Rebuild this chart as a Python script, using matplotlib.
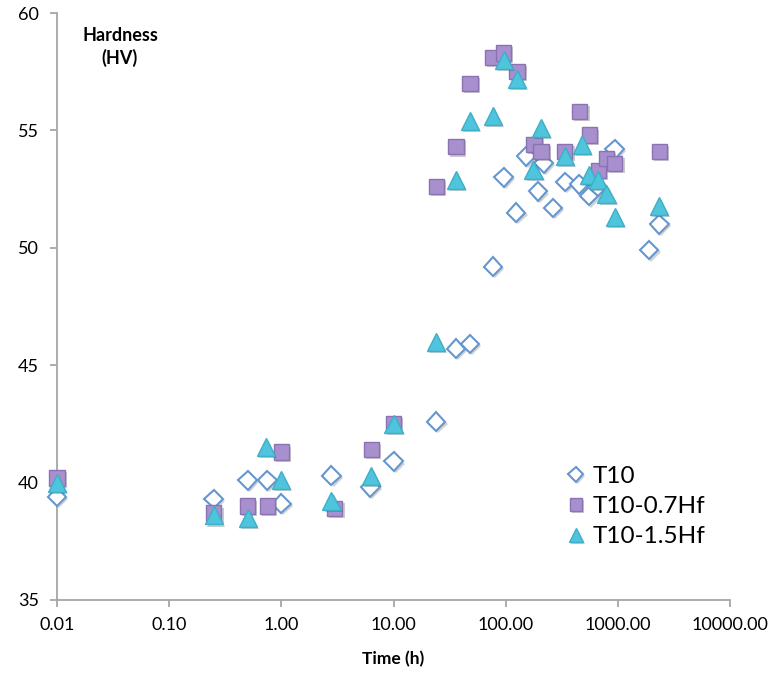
import numpy as np
import matplotlib
matplotlib.use("Agg")
import matplotlib.pyplot as plt
from matplotlib.ticker import FixedLocator, FuncFormatter, NullLocator
import matplotlib.patheffects as pe

plt.rcParams['font.family'] = ['Lato', 'DejaVu Sans']

# aging time (h) and hardness (HV) for each alloy
t10_time = [0.01, 0.25, 0.5, 0.75, 1, 2.8, 6.2, 10, 24, 36, 48, 77, 96, 124, 153,
            194, 218, 264, 340, 455, 555, 660, 940, 1900, 2340]
t10_hv = [39.4, 39.3, 40.1, 40.1, 39.1, 40.3, 39.8, 40.9, 42.6, 45.7, 45.9, 49.2, 53.0,
          51.5, 53.9, 52.4, 53.6, 51.7, 52.8, 52.7, 52.2, 52.6, 54.2, 49.9, 51.0]

hf07_time = [0.01, 0.25, 0.5, 0.75, 1, 3, 6.4, 10, 24, 36, 48, 77, 96, 126, 179,
             206, 337, 458, 555, 668, 792, 940, 2335]
hf07_hv = [40.2, 38.7, 39.0, 39.0, 41.3, 38.9, 41.4, 42.5, 52.6, 54.3, 57.0, 58.1, 58.3,
           57.5, 54.4, 54.1, 54.1, 55.8, 54.8, 53.3, 53.8, 53.6, 54.1]

hf15_time = [0.01, 0.25, 0.5, 0.73, 1, 2.8, 6.3, 10, 24, 36, 48, 77, 96, 126, 177,
             205, 340, 480, 550, 668, 792, 940, 2335]
hf15_hv = [40.0, 38.6, 38.5, 41.5, 40.1, 39.2, 40.3, 42.5, 46.0, 52.9, 55.4, 55.6, 58.0,
           57.2, 53.3, 55.1, 53.9, 54.4, 53.1, 52.9, 52.3, 51.3, 51.8]

x_ticks = [0.01, 0.1, 1, 10, 100, 1000, 10000]
y_ticks = [35, 40, 45, 50, 55, 60]

fig = plt.figure(figsize=(7.73, 6.75), dpi=100)
ax = fig.add_axes([57 / 773, 75 / 675, 673 / 773, 587 / 675])

shadow = [pe.SimplePatchShadow(offset=(1.5, -1.5), alpha=0.25), pe.Normal()]

ax.plot(t10_time, t10_hv, ls='none', marker='D', ms=9.5, mfc='white', mec='#6696D0',
        mew=1.5, label='T10', path_effects=shadow, zorder=3, clip_on=False)
ax.plot(hf07_time, hf07_hv, ls='none', marker='s', ms=11, mfc='#A890CE', mec='#8B72B3',
        mew=1.0, label='T10-0.7Hf', path_effects=shadow, zorder=4, clip_on=False)
ax.plot(hf15_time, hf15_hv, ls='none', marker='^', ms=13, mfc='#4FC4DD', mec='#3FAFC8',
        mew=1.0, label='T10-1.5Hf', path_effects=shadow, zorder=5, clip_on=False)

ax.set_xscale('log')
ax.set_xlim(0.01, 10000)
ax.set_ylim(35, 60)
ax.xaxis.set_major_locator(FixedLocator(x_ticks))
ax.xaxis.set_minor_locator(NullLocator())
ax.xaxis.set_major_formatter(FuncFormatter(lambda v, p: '{:.2f}'.format(v)))
ax.yaxis.set_major_locator(FixedLocator(y_ticks))

for s in ['top', 'right']:
    ax.spines[s].set_visible(False)
for s in ['left', 'bottom']:
    ax.spines[s].set_color('#A6A6A6')
    ax.spines[s].set_linewidth(1.3)
    ax.spines[s].set_zorder(1)
ax.tick_params(axis='both', direction='out', length=5, width=1.3, color='#A6A6A6',
               labelsize=13, labelcolor='black')
ax.tick_params(axis='x', pad=7)
ax.tick_params(axis='y', pad=8)

ax.set_xlabel('Time (h)', fontsize=12.5, fontweight='bold', labelpad=13)
fig.text(120 / 773, 1 - 47 / 675, 'Hardness\n(HV)', ha='center', va='center',
         fontsize=13, fontweight='bold', linespacing=1.3)

leg = ax.legend(loc='upper left', bbox_to_anchor=(554 / 773, 1 - 456 / 675),
                bbox_transform=fig.transFigure, frameon=False, fontsize=17.5,
                handletextpad=0.2, handlelength=1.0, labelspacing=0.38,
                borderaxespad=0, markerscale=0.8)

fig.savefig('out.png', dpi=100)
